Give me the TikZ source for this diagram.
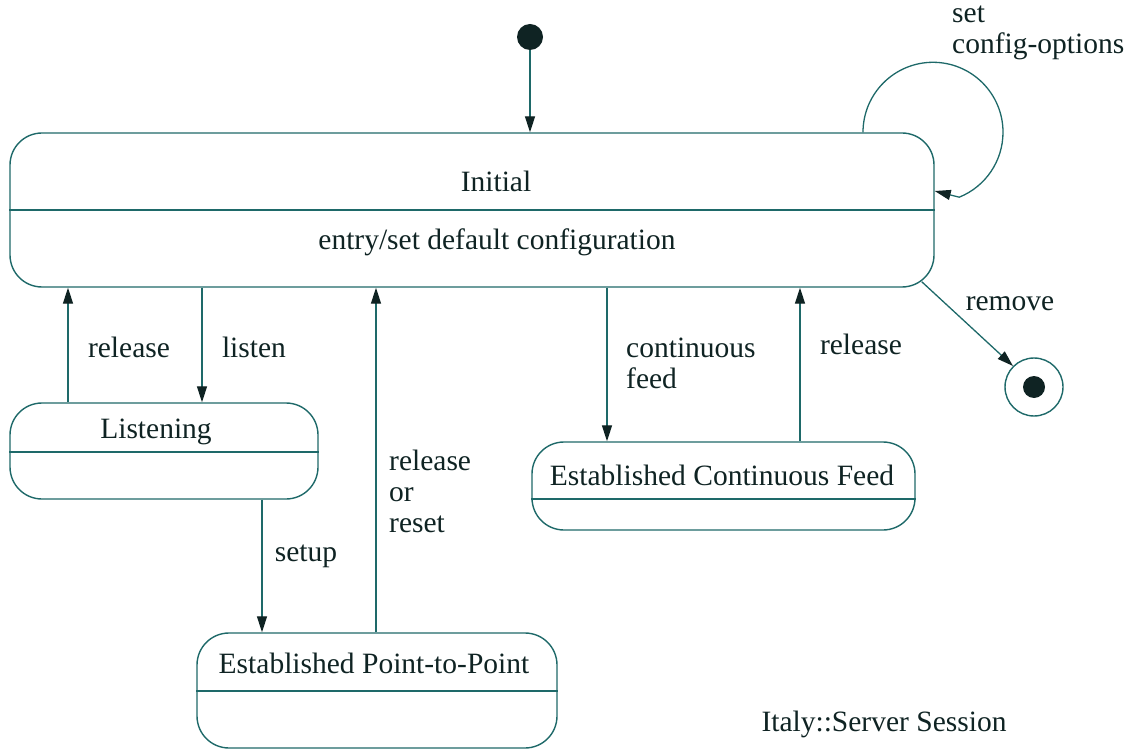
\documentclass[tikz,border=0pt]{standalone}
\usepackage{fontspec}
\setmainfont{Liberation Serif}
\newfontfamily\tnr{Liberation Serif}
\usetikzlibrary{arrows.meta}
\definecolor{ln}{RGB}{30,105,105}
\definecolor{tx}{RGB}{15,35,35}
\begin{document}
\begin{tikzpicture}[x=1pt,y=1pt,
  every node/.style={text=tx,font=\tnr\fontsize{29.5}{31}\selectfont},
  state/.style={draw=ln,line width=1.4pt,rounded corners=32pt,inner sep=0pt},
  divline/.style={draw=ln,line width=1.4pt},
  arr/.style={draw=ln,line width=1.3pt,-{Triangle[length=16pt,width=10pt,color=tx]}},
  lbl/.style={inner sep=0pt,align=left}]
\useasboundingbox (0,0) rectangle (1138,-751);
% initial pseudo state
\fill[tx] (530,-37) circle (13) node (start) [minimum size=26pt,inner sep=0pt,circle] {};
% states
\node[state,minimum width=924pt,minimum height=154pt] (initial) at (472,-210) {};
\node (initT) at (496,-181) {Initial};
\node (initE) at (497,-242) {entry/set default configuration};
\draw[divline] (initial.west |- 0,-210) -- (initial.east |- 0,-210);

\node[state,minimum width=308pt,minimum height=96pt] (listening) at (164,-451) {};
\node (listT) at (156,-432) {Listening};
\draw[divline] (listening.west |- 0,-452) -- (listening.east |- 0,-452);

\node[state,minimum width=360pt,minimum height=115pt] (epp) at (377,-690.5) {};
\node (eppT) at (374,-663) {Established Point-to-Point};
\draw[divline] (epp.west |- 0,-691) -- (epp.east |- 0,-691);

\node[state,minimum width=383pt,minimum height=88pt] (ecf) at (723.5,-486) {};
\node (ecfT) at (722,-475) {Established Continuous Feed};
\draw[divline] (ecf.west |- 0,-499) -- (ecf.east |- 0,-499);

% final state
\node[draw=ln,line width=1.4pt,circle,minimum size=58pt,inner sep=0pt] (final) at (1034,-387) {};
\fill[tx] (final.center) circle (11);

% coordinates for vertical connectors
\coordinate (xa) at (68,0);
\coordinate (xb) at (202,0);
\coordinate (xc) at (262,0);
\coordinate (xd) at (376,0);
\coordinate (xe) at (607,0);
\coordinate (xf) at (800,0);
\coordinate (xs) at (863,0);
\coordinate (ys) at (0,-191);

% connectors
\draw[arr] (start) -- (initial.north -| start);
\draw[arr] (listening.north -| xa) -- (initial.south -| xa);
\draw[arr] (initial.south -| xb) -- (listening.north -| xb);
\draw[arr] (listening.south -| xc) -- (epp.north -| xc);
\draw[arr] (epp.north -| xd) -- (initial.south -| xd);
\draw[arr] (initial.south -| xe) -- (ecf.north -| xe);
\draw[arr] (ecf.north -| xf) -- (initial.south -| xf);
\draw[arr] (initial.south east) ++(-13,6) coordinate (rm) (rm) -- (final.north west);
\draw[arr] (initial.north -| xs) arc[start angle=180,end angle=-68,radius=70] -- (initial.east |- ys);

% labels
\node[lbl] at (129,-347) {release};
\node[lbl] at (254,-347) {listen};
\node[lbl] at (306,-556) {setup};
\node[lbl,anchor=west] at (389,-491) {release\\or\\reset};
\node[lbl,anchor=west] at (626,-363) {continuous\\feed};
\node[lbl] at (861,-344) {release};
\node[lbl] at (1010,-304) {remove};
\node[lbl,anchor=west] at (952,-33) {set\\config-options};
\node[lbl] at (884,-724) {Italy::Server Session};
\end{tikzpicture}
\end{document}
